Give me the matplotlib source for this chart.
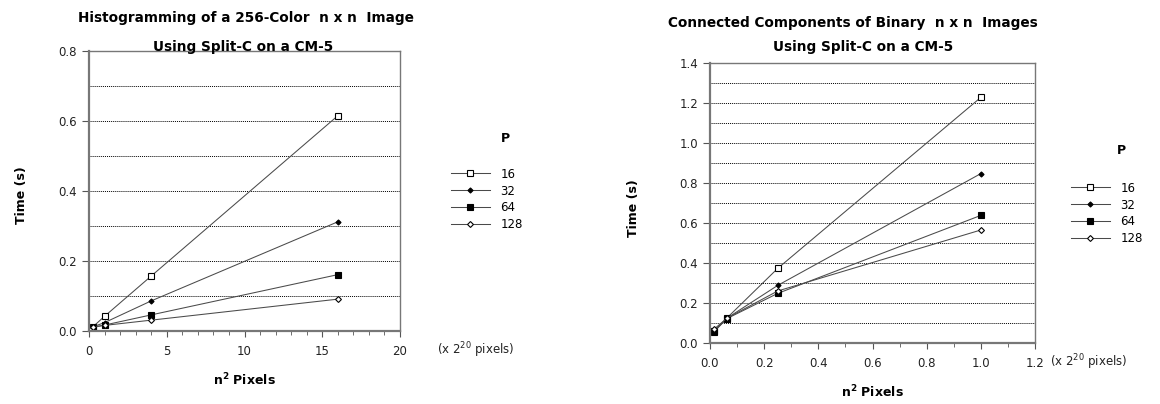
import numpy as np
import matplotlib.pyplot as plt
from matplotlib.ticker import MultipleLocator, FormatStrFormatter

# tamaños de imagen en unidades de 2^20 pixeles
hist_x = [0.0625, 0.25, 1, 4, 16]
hist_p16 = [0.006, 0.012, 0.042, 0.157, 0.615]
hist_p32 = [0.005, 0.012, 0.024, 0.086, 0.312]
hist_p64 = [0.004, 0.010, 0.017, 0.046, 0.161]
hist_p128 = [0.003, 0.012, 0.016, 0.031, 0.091]

cc_x = [0.015625, 0.0625, 0.25, 1.0]
cc_p16 = [0.060, 0.125, 0.373, 1.228]
cc_p32 = [0.062, 0.124, 0.288, 0.847]
cc_p64 = [0.057, 0.122, 0.248, 0.638]
cc_p128 = [0.070, 0.124, 0.260, 0.565]

procs = ['16', '32', '64', '128']

estilos = [
    dict(marker='s', mfc='white', mec='black', ms=3.8),
    dict(marker='D', mfc='black', mec='black', ms=2.6),
    dict(marker='s', mfc='black', mec='black', ms=3.8),
    dict(marker='D', mfc='white', mec='black', ms=3.0),
]

fig = plt.figure(figsize=(11.6, 4.04), dpi=100)
H = 404.0


def fy(px):
    return 1 - px / H


def dibujar(ax, x, series, xmax, xmaj, xmin, ymax, xfmt, titulos, ylab_pos, xlabel_y,
            unidad_x, leg_xy, p_xy):
    for y, lab, st in zip(series, procs, estilos):
        ax.plot(x, y, color='#4a4a4a', lw=0.75, label=lab, mew=0.8, **st)
    ax.set_xlim(0, xmax)
    ax.set_ylim(0, ymax)
    ax.xaxis.set_major_locator(MultipleLocator(xmaj))
    ax.xaxis.set_minor_locator(MultipleLocator(xmin))
    ax.xaxis.set_major_formatter(FormatStrFormatter(xfmt))
    ax.yaxis.set_major_locator(MultipleLocator(0.2))
    ax.yaxis.set_minor_locator(MultipleLocator(0.1))
    ax.yaxis.set_major_formatter(FormatStrFormatter('%.1f'))
    ax.grid(axis='y', which='both', linestyle=(0, (1, 1)), color='black', lw=0.7)
    ax.tick_params(axis='both', which='both', direction='out', color='#555555',
                   labelsize=8.5, labelcolor='#222222')
    ax.tick_params(axis='x', which='major', length=4, pad=6)
    ax.tick_params(axis='x', which='minor', length=3)
    ax.tick_params(axis='y', which='major', length=5)
    ax.tick_params(axis='y', which='minor', length=0)
    for s in ['left', 'bottom']:
        ax.spines[s].set_linewidth(1.6)
        ax.spines[s].set_color('#777777')
    for s in ['top', 'right']:
        ax.spines[s].set_linewidth(1.0)
        ax.spines[s].set_color('#777777')
    # titulo en dos lineas
    for (tx, ty, txt) in titulos:
        fig.text(tx / 1160, fy(ty), txt, fontsize=9.8, fontweight='bold',
                 ha='center', va='center')
    fig.text(ylab_pos[0] / 1160, fy(ylab_pos[1]), 'Time (s)', rotation=90, fontsize=9,
             fontweight='bold', ha='center', va='center')
    pos = ax.get_position()
    fig.text((pos.x0 + pos.x1) / 2, fy(xlabel_y), r'n$^{\mathbf{2}}$ Pixels', fontsize=9,
             fontweight='bold', ha='center', va='center')
    fig.text(unidad_x / 1160, pos.y0 - 0.047, r'(x 2$^{20}$ pixels)', fontsize=8.5,
             ha='left', va='center', color='#222222')
    ax.legend(loc='upper left', bbox_to_anchor=(leg_xy[0] / 1160, fy(leg_xy[1])),
              bbox_transform=fig.transFigure, frameon=False, fontsize=8.5,
              handlelength=3.3, labelspacing=0.33, handletextpad=0.9)
    fig.text(p_xy[0] / 1160, fy(p_xy[1]), 'P', fontsize=9, fontweight='bold',
             ha='left', va='center')


ax1 = fig.add_axes([89 / 1160, fy(331), 311 / 1160, 280 / H])
dibujar(ax1, hist_x, [hist_p16, hist_p32, hist_p64, hist_p128], 20, 5, 1, 0.8, '%d',
        [(246, 18, 'Histogramming of a 256-Color  n x n  Image'),
         (243, 47, 'Using Split-C on a CM-5')],
        (22, 195), 380, 437, (440, 157), (501, 138))

ax2 = fig.add_axes([710 / 1160, fy(343), 325 / 1160, 280 / H])
dibujar(ax2, cc_x, [cc_p16, cc_p32, cc_p64, cc_p128], 1.2, 0.2, 0.1, 1.4, '%.1f',
        [(853, 23, 'Connected Components of Binary  n x n  Images'),
         (863, 47, 'Using Split-C on a CM-5')],
        (634, 208), 392, 1050, (1060, 171), (1117, 150))

fig.savefig('out.png', dpi=100)
